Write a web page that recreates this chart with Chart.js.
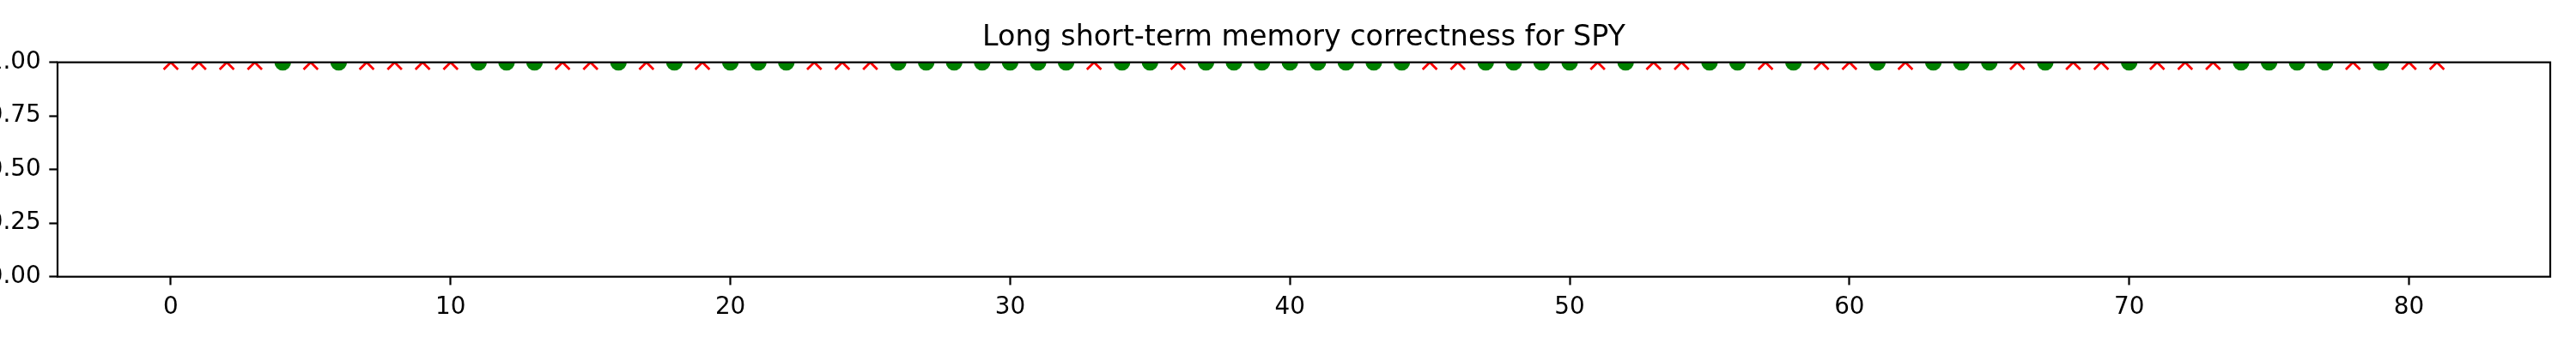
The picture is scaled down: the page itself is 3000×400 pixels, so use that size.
<!DOCTYPE html>
<html>
<head>
<meta charset="utf-8">
<title>LSTM correctness SPY</title>
<script src="https://cdn.jsdelivr.net/npm/chart.js@4/dist/chart.umd.min.js"></script>
<style>
    html, body { margin: 0; padding: 0; background: #ffffff; }
    canvas { display: block; }
</style>
</head>
<body>
<canvas id="correctnessChart" width="3000" height="400"></canvas>
<script>
// 1 = prediction was correct (green dot), 0 = wrong (red x), one entry per test day
const correct = [
    0, 0, 0, 0, 1, 0, 1, 0, 0, 0,
    0, 1, 1, 1, 0, 0, 1, 0, 1, 0,
    1, 1, 1, 0, 0, 0, 1, 1, 1, 1,
    1, 1, 1, 0, 1, 1, 0, 1, 1, 1,
    1, 1, 1, 1, 1, 0, 0, 1, 1, 1,
    1, 0, 1, 0, 0, 1, 1, 0, 1, 0,
    0, 1, 0, 1, 1, 1, 0, 1, 0, 0,
    1, 0, 0, 0, 1, 1, 1, 1, 0, 1,
    0, 0
];
// every marker sits on the same level
const markerLevel = 1.0;

const xTicks = [0, 10, 20, 30, 40, 50, 60, 70, 80];
const yTicks = [0, 0.25, 0.5, 0.75, 1.0];

const xMin = -4.05;
const xMax = 85.05;

document.addEventListener("DOMContentLoaded", () => {
    const ctx = document.getElementById("correctnessChart").getContext("2d");

    const rightPoints = [];
    const wrongPoints = [];
    correct.forEach((c, i) => {
        if (c === 1) {
            rightPoints.push({ x: i, y: markerLevel });
        } else {
            wrongPoints.push({ x: i, y: markerLevel });
        }
    });

    // matplotlib style frame drawn on top of the markers
    const frame = {
        id: "frame",
        afterDatasetsDraw(chart) {
            const a = chart.chartArea;
            const c = chart.ctx;
            c.save();
            c.strokeStyle = "#000000";
            c.lineWidth = 2.2;
            c.strokeRect(a.left, a.top, a.right - a.left, a.bottom - a.top);
            c.restore();
        }
    };

    const tickFont = { family: "DejaVu Sans", size: 27.8 };

    new Chart(ctx, {
        type: "scatter",
        data: {
            datasets: [
                {
                    label: "correct",
                    data: rightPoints,
                    pointStyle: "circle",
                    pointRadius: 8.3,
                    pointBorderWidth: 2.8,
                    backgroundColor: "#008000",
                    borderColor: "#008000",
                    clip: 0
                },
                {
                    label: "wrong",
                    data: wrongPoints,
                    pointStyle: "crossRot",
                    pointRadius: 11.8,
                    pointBorderWidth: 2.8,
                    backgroundColor: "#ff0000",
                    borderColor: "#ff0000",
                    clip: 0
                }
            ]
        },
        options: {
            responsive: false,
            animation: false,
            devicePixelRatio: 1,
            layout: { padding: { left: 0, right: 30, top: 0, bottom: 0 } },
            plugins: {
                legend: { display: false },
                tooltip: { enabled: false },
                title: {
                    display: true,
                    fullSize: false, // center over the plot area, like matplotlib
                    text: "Long short-term memory correctness for SPY",
                    color: "#000000",
                    font: { family: "DejaVu Sans", size: 33.3, weight: "normal", lineHeight: 1.2 },
                    padding: { top: 24, bottom: 8.7 }
                }
            },
            scales: {
                x: {
                    type: "linear",
                    min: xMin,
                    max: xMax,
                    afterBuildTicks: (scale) => {
                        scale.ticks = xTicks.map(v => ({ value: v }));
                    },
                    afterFit: (scale) => { scale.height = 77.3; },
                    ticks: {
                        color: "#000000",
                        font: tickFont,
                        padding: 9.7,
                        maxRotation: 0,
                        callback: (v) => String(v)
                    },
                    grid: {
                        drawOnChartArea: false,
                        drawTicks: true,
                        tickLength: 9.7,
                        tickWidth: 2.2,
                        tickColor: "#000000"
                    },
                    border: { display: false }
                },
                y: {
                    type: "linear",
                    min: 0,
                    max: 1,
                    afterBuildTicks: (scale) => {
                        scale.ticks = yTicks.map(v => ({ value: v }));
                    },
                    afterFit: (scale) => { scale.width = 67; },
                    ticks: {
                        color: "#000000",
                        font: tickFont,
                        padding: 9.7,
                        callback: (v) => Number(v).toFixed(2)
                    },
                    grid: {
                        drawOnChartArea: false,
                        drawTicks: true,
                        tickLength: 9.7,
                        tickWidth: 2.2,
                        tickColor: "#000000"
                    },
                    border: { display: false }
                }
            }
        },
        plugins: [frame]
    });
});
</script>
</body>
</html>
